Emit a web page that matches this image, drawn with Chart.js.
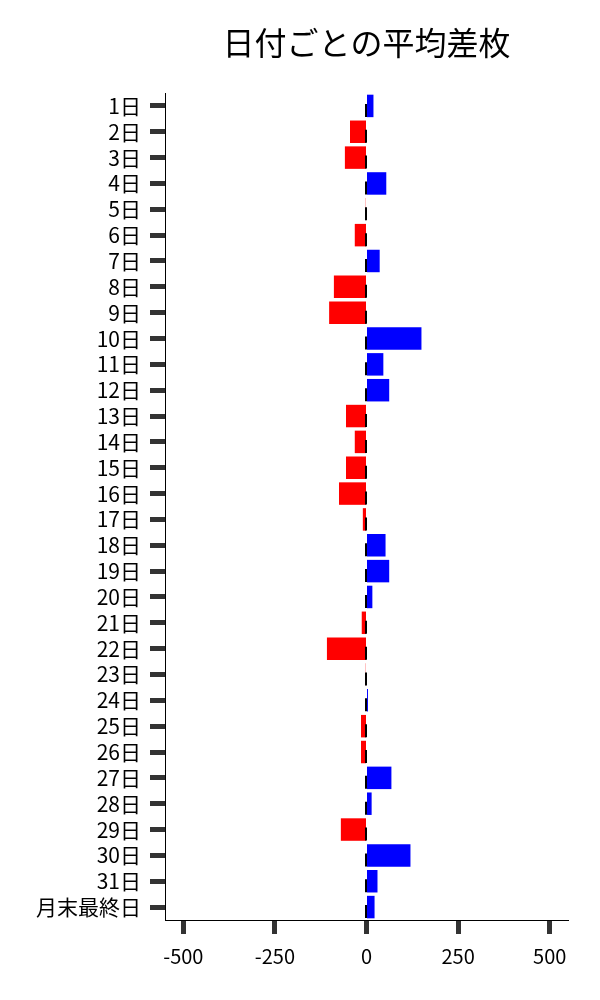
<!DOCTYPE html>
<html lang="ja">
  <head>
    <meta charset="UTF-8" />
    <script src="https://cdn.jsdelivr.net/npm/chart.js@4.4.0/dist/chart.umd.min.js"></script>
    <title>日付ごとの平均差枚</title>
    <style>
      body {
        margin: 0;
        padding: 0;
        background: white;
      }
      #chart {
        display: block;
      }
    </style>
  </head>
  <body>
    <canvas id="chart" width="600" height="1000" style="width:600px;height:1000px"></canvas>
    <script>
      const days = [
        '1日','2日','3日','4日','5日','6日','7日','8日','9日','10日',
        '11日','12日','13日','14日','15日','16日','17日','18日','19日','20日',
        '21日','22日','23日','24日','25日','26日','27日','28日','29日','30日',
        '31日','月末最終日',
      ]
      const avgDiff = [
        19, -45, -59, 54, -2, -32, 36, -89, -102, 150,
        46, 62, -56, -32, -56, -75, -10, 52, 62, 16,
        -13, -108, -2, 4, -15, -15, 68, 14, -70, 120,
        30, 22,
      ]
      const xTicks = [-500, -250, 0, 250, 500]
      const chartTitle = '日付ごとの平均差枚'

      const font = "'Noto Sans CJK JP', 'Noto Sans', sans-serif"

      // title centred over the plot area, dashed marks along zero
      const extras = {
        id: 'extras',
        afterDatasetsDraw(chart) {
          const { ctx, scales } = chart
          const x0 = scales.x.getPixelForValue(0) - 0.5
          ctx.save()
          ctx.strokeStyle = '#000'
          ctx.lineWidth = 2
          days.forEach((d, i) => {
            const y = scales.y.getPixelForValue(i)
            ctx.beginPath()
            ctx.moveTo(x0, y - 2)
            ctx.lineTo(x0, y + 11)
            ctx.stroke()
          })
          ctx.restore()
        },
        afterDraw(chart) {
          const { ctx, chartArea } = chart
          ctx.save()
          ctx.font = '32px ' + font
          ctx.fillStyle = '#000'
          ctx.textAlign = 'center'
          ctx.textBaseline = 'middle'
          ctx.fillText(chartTitle, (chartArea.left + chartArea.right) / 2, 43)
          ctx.restore()
        },
      }

      new Chart(document.getElementById('chart'), {
        type: 'bar',
        data: {
          labels: days,
          datasets: [
            {
              data: avgDiff,
              backgroundColor: avgDiff.map((v) => (v < 0 ? '#ff0000' : '#0000ff')),
              barPercentage: 0.87,
              categoryPercentage: 1,
            },
          ],
        },
        options: {
          indexAxis: 'y',
          responsive: false,
          devicePixelRatio: 1,
          animation: false,
          layout: { padding: { top: 93, right: 32, left: 0, bottom: 0 } },
          plugins: {
            legend: { display: false },
            title: { display: false },
            tooltip: { enabled: false },
          },
          scales: {
            x: {
              min: -550,
              max: 550,
              afterBuildTicks: (s) => {
                s.ticks = xTicks.map((v) => ({ value: v }))
              },
              afterFit: (s) => {
                s.height = 80
              },
              border: { display: true, color: '#000', width: 1 },
              grid: {
                drawOnChartArea: false,
                drawTicks: true,
                tickLength: 14,
                tickWidth: 5,
                tickColor: '#333',
              },
              ticks: {
                color: '#000',
                padding: 10,
                font: { family: font, size: 20 },
              },
            },
            y: {
              afterFit: (s) => {
                s.width = 165
              },
              border: { display: true, color: '#000', width: 1 },
              grid: {
                offset: false,
                drawOnChartArea: false,
                drawTicks: true,
                tickLength: 15,
                tickWidth: 5,
                tickColor: '#333',
              },
              ticks: {
                color: '#000',
                padding: 9,
                autoSkip: false,
                font: { family: font, size: 21 },
              },
            },
          },
        },
        plugins: [extras],
      })
    </script>
  </body>
</html>
